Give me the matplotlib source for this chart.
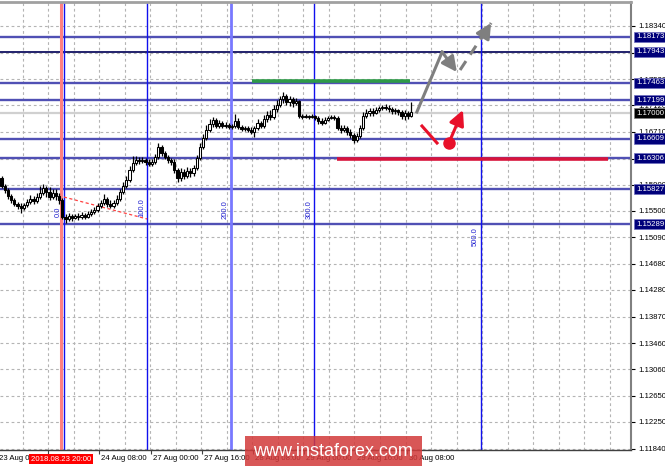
import numpy as np
import matplotlib
matplotlib.use("Agg")
import matplotlib.pyplot as plt
import matplotlib.transforms as mtransforms
from matplotlib.patches import Rectangle

plt.rcParams['font.family'] = ['Liberation Sans', 'DejaVu Sans']

# EURUSD H1, 23-30 Aug 2018
opens = [1.16002, 1.15878, 1.15817, 1.15725, 1.15663, 1.15602, 1.15571, 1.15540, 1.15586, 1.15632,
         1.15678, 1.15648, 1.15709, 1.15771, 1.15848, 1.15786, 1.15709, 1.15771, 1.15725, 1.15663,
         1.15402, 1.15371, 1.15417, 1.15386, 1.15417, 1.15402, 1.15432, 1.15402, 1.15448, 1.15478,
         1.15509, 1.15571, 1.15617, 1.15678, 1.15602, 1.15571, 1.15617, 1.15678, 1.15786, 1.15878,
         1.15971, 1.16125, 1.16232, 1.16278, 1.16263, 1.16278, 1.16248, 1.16217, 1.16248, 1.16325,
         1.16478, 1.16386, 1.16325, 1.16278, 1.16248, 1.16125, 1.16002, 1.16094, 1.16032, 1.16109,
         1.16078, 1.16155, 1.16309, 1.16478, 1.16617, 1.16740, 1.16832, 1.16894, 1.16801, 1.16848,
         1.16801, 1.16817, 1.16786, 1.16801, 1.16878, 1.16786, 1.16755, 1.16771, 1.16740, 1.16709,
         1.16771, 1.16848, 1.16801, 1.16909, 1.16971, 1.16940, 1.17063, 1.17124, 1.17217, 1.17263,
         1.17171, 1.17217, 1.17155, 1.17186, 1.16955, 1.16940, 1.16955, 1.16940, 1.16955, 1.16925,
         1.16878, 1.16848, 1.16894, 1.16925, 1.16940, 1.16925, 1.16771, 1.16740, 1.16771, 1.16709,
         1.16663, 1.16586, 1.16648, 1.16771, 1.16955, 1.17001, 1.17032, 1.17001, 1.17047, 1.17078,
         1.17094, 1.17078, 1.17063, 1.17032, 1.17047, 1.17017, 1.16955, 1.17001, 1.16955]
highs = [1.16032, 1.15909, 1.15848, 1.15755, 1.15694, 1.15632, 1.15617, 1.15617, 1.15678, 1.15740,
         1.15725, 1.15771, 1.15878, 1.15909, 1.15878, 1.15863, 1.15832, 1.15832, 1.15771, 1.15694,
         1.15448, 1.15463, 1.15448, 1.15448, 1.15463, 1.15478, 1.15463, 1.15494, 1.15525, 1.15555,
         1.15617, 1.15663, 1.15755, 1.15709, 1.15663, 1.15663, 1.15740, 1.15832, 1.15940, 1.16032,
         1.16186, 1.16340, 1.16340, 1.16325, 1.16325, 1.16309, 1.16294, 1.16294, 1.16371, 1.16540,
         1.16509, 1.16417, 1.16355, 1.16309, 1.16294, 1.16155, 1.16155, 1.16140, 1.16171, 1.16155,
         1.16202, 1.16355, 1.16540, 1.16678, 1.16817, 1.16909, 1.16940, 1.16925, 1.16894, 1.16878,
         1.16863, 1.16848, 1.16832, 1.16986, 1.16925, 1.16817, 1.16801, 1.16801, 1.16786, 1.16801,
         1.16909, 1.16878, 1.16971, 1.17032, 1.17047, 1.17124, 1.17202, 1.17263, 1.17325, 1.17294,
         1.17263, 1.17248, 1.17232, 1.17202, 1.16986, 1.16986, 1.16971, 1.16986, 1.16971, 1.16955,
         1.16925, 1.16940, 1.16955, 1.16971, 1.16971, 1.16955, 1.16817, 1.16817, 1.16801, 1.16755,
         1.16694, 1.16694, 1.16817, 1.17017, 1.17063, 1.17078, 1.17078, 1.17094, 1.17109, 1.17124,
         1.17140, 1.17124, 1.17094, 1.17078, 1.17063, 1.17047, 1.17047, 1.17032, 1.17171]
lows = [1.15848, 1.15771, 1.15678, 1.15617, 1.15571, 1.15525, 1.15463, 1.15509, 1.15555, 1.15602,
        1.15602, 1.15617, 1.15678, 1.15740, 1.15709, 1.15663, 1.15678, 1.15663, 1.15602, 1.15371,
        1.15309, 1.15340, 1.15340, 1.15371, 1.15355, 1.15371, 1.15371, 1.15386, 1.15417, 1.15448,
        1.15478, 1.15540, 1.15586, 1.15555, 1.15540, 1.15540, 1.15586, 1.15648, 1.15755, 1.15848,
        1.15940, 1.16094, 1.16202, 1.16217, 1.16232, 1.16202, 1.16186, 1.16186, 1.16217, 1.16294,
        1.16340, 1.16294, 1.16232, 1.16202, 1.16078, 1.15940, 1.15955, 1.15986, 1.16002, 1.16017,
        1.16032, 1.16125, 1.16278, 1.16448, 1.16586, 1.16709, 1.16786, 1.16771, 1.16771, 1.16771,
        1.16771, 1.16755, 1.16755, 1.16771, 1.16755, 1.16725, 1.16725, 1.16709, 1.16678, 1.16632,
        1.16740, 1.16771, 1.16771, 1.16863, 1.16894, 1.16909, 1.17017, 1.17094, 1.17155, 1.17124,
        1.17109, 1.17094, 1.17124, 1.16925, 1.16909, 1.16925, 1.16909, 1.16925, 1.16894, 1.16832,
        1.16817, 1.16832, 1.16878, 1.16909, 1.16894, 1.16740, 1.16694, 1.16709, 1.16663, 1.16617,
        1.16540, 1.16555, 1.16617, 1.16740, 1.16925, 1.16955, 1.16955, 1.16986, 1.17017, 1.17047,
        1.17047, 1.17017, 1.16986, 1.16986, 1.16971, 1.16909, 1.16894, 1.16909, 1.16940]
closes = [1.15878, 1.15817, 1.15725, 1.15663, 1.15602, 1.15571, 1.15540, 1.15586, 1.15632, 1.15678,
          1.15648, 1.15709, 1.15771, 1.15848, 1.15786, 1.15709, 1.15771, 1.15725, 1.15663, 1.15402,
          1.15371, 1.15417, 1.15386, 1.15417, 1.15402, 1.15432, 1.15402, 1.15448, 1.15478, 1.15509,
          1.15571, 1.15617, 1.15678, 1.15602, 1.15571, 1.15617, 1.15678, 1.15786, 1.15878, 1.15971,
          1.16125, 1.16232, 1.16278, 1.16263, 1.16278, 1.16248, 1.16217, 1.16248, 1.16325, 1.16478,
          1.16386, 1.16325, 1.16278, 1.16248, 1.16125, 1.16002, 1.16094, 1.16032, 1.16109, 1.16078,
          1.16155, 1.16309, 1.16478, 1.16617, 1.16740, 1.16832, 1.16894, 1.16801, 1.16848, 1.16801,
          1.16817, 1.16786, 1.16801, 1.16878, 1.16786, 1.16755, 1.16771, 1.16740, 1.16709, 1.16771,
          1.16848, 1.16801, 1.16909, 1.16971, 1.16940, 1.17063, 1.17124, 1.17217, 1.17263, 1.17171,
          1.17217, 1.17155, 1.17186, 1.16955, 1.16940, 1.16955, 1.16940, 1.16955, 1.16925, 1.16878,
          1.16848, 1.16894, 1.16925, 1.16940, 1.16925, 1.16771, 1.16740, 1.16771, 1.16709, 1.16663,
          1.16586, 1.16648, 1.16771, 1.16955, 1.17001, 1.17032, 1.17001, 1.17047, 1.17078, 1.17094,
          1.17078, 1.17063, 1.17032, 1.17047, 1.17017, 1.16955, 1.17001, 1.16955, 1.17017]

price_ticks = [1.18340, 1.17930, 1.17520, 1.17120, 1.16710, 1.16300, 1.15900, 1.15500, 1.15090,
               1.14680, 1.14280, 1.13870, 1.13460, 1.13060, 1.12650, 1.12250, 1.11840]
hidden_ticks = [1.17930, 1.16300]   # fully covered by the level boxes in the terminal
level_prices = [1.18173, 1.17943, 1.17463, 1.17199, 1.16609, 1.16306, 1.15827, 1.15289]
bid_price = 1.17000
time_labels = ["23 Aug 00:00", "23 Aug 16:00", "24 Aug 08:00", "27 Aug 00:00", "27 Aug 16:00",
               "28 Aug 08:00", "29 Aug 00:00", "29 Aug 16:00", "30 Aug 08:00"]
cursor_label = "2018.08.23 20:00"
fib_levels = [0.0, 100.0, 200.0, 300.0, 500.0]

# drawn objects (bar index, price)
red_trend = ([19.5, 45.5], [1.15709, 1.15371])
green_level = ([78.3, 127.7], [1.17494, 1.17494])
red_level = ([104.8, 189.5], [1.16300, 1.16300])
gray_path = ([129.8, 137.7, 142.3], [1.17017, 1.17940, 1.17632])
gray_dash = ([143.3, 153.0], [1.17663, 1.18386])
red_path = ([131.4, 136.1], [1.16801, 1.16540])
red_up = ([139.8, 144.2], [1.16540, 1.17047])

W, H = 665, 467
fig = plt.figure(figsize=(W / 100, H / 100), dpi=100)
ax = fig.add_axes([0, 1 - 450 / H, 631 / W, 448 / H])
px = 3.2  # pixels per bar
ax.set_xlim(-1.5 / px, 629.5 / px)
ax.set_ylim(1.11817, 1.18709)

x = np.arange(len(closes))
o = np.array(opens); c = np.array(closes)
up = c >= o
ax.vlines(x, lows, highs, color='black', lw=0.9, zorder=4)
ax.bar(x, np.where(np.abs(c - o) < 4e-5, 4e-5, c - o), bottom=o, width=0.7,
       color=np.where(up, 'white', 'black'), edgecolor='black', linewidth=0.75, zorder=5)

# grid
for gx in np.arange(6.7, 197, 7.97):
    ax.axvline(gx, color='#b4b4b4', lw=0.8, ls=(0, (2.5, 2.5)), zorder=0)
for gy in price_ticks:
    ax.axhline(gy, color='#b4b4b4', lw=0.8, ls=(0, (2.5, 2.5)), zorder=0)

# bid line and support / resistance levels
ax.axhline(bid_price, color='#d0d0d0', lw=1.6, zorder=1)
for p in level_prices:
    dark = p == 1.17943
    ax.axhline(p, color='#101060' if dark else '#5050b4', lw=1.3 if dark else 1.7, zorder=2)

# fibonacci time zones
fib_start, fib_unit = 19.5, 26.07
ax.axvline(18.6, color='#ff8080', lw=2.2, zorder=2)
fib_label_y = [1.15478, 1.15540, 1.15510, 1.15510, 1.15100]
for lev, ly in zip(fib_levels, fib_label_y):
    fx = fib_start + lev / 100 * fib_unit
    light = lev == 200.0
    ax.axvline(fx, color='#7878ff' if light else '#1010ee', lw=2.0 if light else 1.0, zorder=2)
    ax.text(fx - 1.7, ly, f"{lev:.1f}", rotation=90, ha='center', va='center',
            color='#2020d0', fontsize=5.5, zorder=3)

ax.plot(*red_trend, color='#ff4040', lw=0.9, ls=(0, (2.5, 2)), zorder=3)
ax.plot(*green_level, color='#2e9a48', lw=2.6, solid_capstyle='butt', zorder=3)
ax.plot(*red_level, color='#d8143c', lw=2.6, solid_capstyle='butt', zorder=3)

# forecast arrows
gray = '#7f7f7f'
head = '-|>,head_length=0.9,head_width=0.45'
ax.plot(gray_path[0][:2], gray_path[1][:2], color=gray, lw=2.2, zorder=6)
ax.annotate('', xy=(gray_path[0][2], gray_path[1][2]), xytext=(gray_path[0][1], gray_path[1][1]),
            arrowprops=dict(arrowstyle=head, color=gray, lw=2.2, shrinkA=0, shrinkB=0), zorder=6)
ax.plot(gray_dash[0], gray_dash[1], color=gray, lw=2.2, ls=(0, (3.5, 2.5)), zorder=6)
ax.annotate('', xy=(gray_dash[0][1], gray_dash[1][1]),
            xytext=(gray_dash[0][1] - 1.5, gray_dash[1][1] - 0.0012),
            arrowprops=dict(arrowstyle=head, color=gray, lw=2.2, shrinkA=0, shrinkB=0), zorder=6)
red = '#e8102a'
ax.plot(*red_path, color=red, lw=2.2, zorder=6)
ax.annotate('', xy=(red_up[0][1], red_up[1][1]), xytext=(red_up[0][0], red_up[1][0]),
            arrowprops=dict(arrowstyle=head, color=red, lw=2.2, shrinkA=0, shrinkB=0), zorder=6)
ax.plot(red_up[0][0], red_up[1][0], 'o', color=red, ms=8, zorder=7)

# axes frame
ax.spines['left'].set_visible(False)
ax.spines['top'].set_color('#a0a0a0'); ax.spines['top'].set_linewidth(2)
ax.spines['right'].set_color('#808080'); ax.spines['right'].set_linewidth(1.5)
ax.spines['bottom'].set_color('#404040'); ax.spines['bottom'].set_linewidth(1.0)

ax.yaxis.tick_right()
ax.set_yticks(price_ticks)
ax.set_yticklabels(["" if t in hidden_ticks else f"{t:.5f}" for t in price_ticks])
ax.tick_params(axis='y', length=3, width=0.8, pad=2, labelsize=5.6, colors='black')

# time axis (the 23 Aug 16:00 label sits under the red cursor box)
bars_per_label = 16
label_bars = [-1.4 + bars_per_label * k for k in range(len(time_labels))]
ax.set_xticks(label_bars[1:])
ax.set_xticklabels([])
ax.tick_params(axis='x', length=3, width=0.8, colors='#404040')
tb = mtransforms.blended_transform_factory(ax.transData, ax.transAxes)
for lb, t in zip(label_bars, time_labels):
    if t == "23 Aug 16:00":
        continue
    ax.text(lb + 0.6, -0.012, t, transform=tb, ha='left', va='top', fontsize=5.6,
            color='black', clip_on=False)
ax.text(18.6, -0.0125, cursor_label, transform=tb, ha='center', va='top', fontsize=5.6,
        color='white', clip_on=False, zorder=10,
        bbox=dict(boxstyle='square,pad=0.18', fc='#ff0000', ec='none'))

# price boxes on the right
for p in level_prices:
    ax.annotate(f"{p:.5f}", xy=(1, p), xycoords=('axes fraction', 'data'), xytext=(5, 0),
                textcoords='offset pixels', ha='left', va='center', fontsize=5.6, color='white',
                annotation_clip=False, zorder=10,
                bbox=dict(boxstyle='square,pad=0.2', fc='#00007a', ec='#7070c0', lw=0.5))
ax.annotate(f"{bid_price:.5f}", xy=(1, bid_price), xycoords=('axes fraction', 'data'), xytext=(5, 0),
            textcoords='offset pixels', ha='left', va='center', fontsize=5.6, color='white',
            annotation_clip=False, zorder=10,
            bbox=dict(boxstyle='square,pad=0.2', fc='black', ec='#808080', lw=0.5))

# watermark
fig.patches.append(Rectangle((245 / W, 1 / H), 177 / W, 30 / H, transform=fig.transFigure,
                             fc='#d23a3a', ec='none', alpha=0.85, zorder=20))
fig.text(333 / W, 16 / H, "www.instaforex.com", ha='center', va='center', color='white',
         fontsize=13, zorder=21)

fig.savefig("out.png", dpi=100)
